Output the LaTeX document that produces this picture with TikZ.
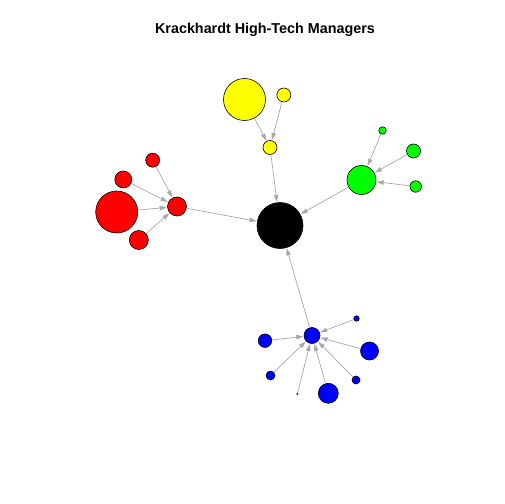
\documentclass[tikz,border=0pt]{standalone}
\usepackage{fontspec}
\setmainfont{Liberation Sans}
\usetikzlibrary{arrows.meta}
\definecolor{netGray}{HTML}{A9A9A9}
\definecolor{netYellow}{HTML}{FFFF00}
\definecolor{netGreen}{HTML}{00FF00}
\definecolor{netRed}{HTML}{FF0000}
\definecolor{netBlue}{HTML}{0000FF}
\tikzset{
    vtx/.style={circle, draw=black, line width=0.6bp, inner sep=0pt, minimum size=#1},
    edge/.style={draw=netGray, line width=0.7bp, -{Triangle[length=7bp, width=4.5bp]}, shorten >=0.5bp}
}

\begin{document}
\begin{tikzpicture}[x=1bp, y=-1bp]
    \useasboundingbox (0,0) rectangle (504,504);
    \node[font=\bfseries\fontsize{14.4}{16}\selectfont] (title) at (265, 30) {Krackhardt High-Tech Managers};

    % Centre
    \node[vtx=46bp, fill=black] (ctr) at (280, 225.5) {};

    % Yellow group
    \node[vtx=42bp, fill=netYellow] (y1) at (244.5, 99.5) {};
    \node[vtx=14bp, fill=netYellow] (y2) at (283.8, 95) {};
    \node[vtx=14bp, fill=netYellow] (yHub) at (270, 147.5) {};

    % Green group
    \node[vtx=29bp, fill=netGreen] (gHub) at (361.5, 180) {};
    \node[vtx=7.5bp, fill=netGreen] (g1) at (382.5, 130.5) {};
    \node[vtx=14bp, fill=netGreen] (g2) at (413.5, 151) {};
    \node[vtx=11.5bp, fill=netGreen] (g3) at (415.7, 186.5) {};

    % Red group
    \node[vtx=19bp, fill=netRed] (rHub) at (177, 206.5) {};
    \node[vtx=42bp, fill=netRed] (r1) at (116.7, 212) {};
    \node[vtx=14bp, fill=netRed] (r2) at (152.7, 160.2) {};
    \node[vtx=17bp, fill=netRed] (r3) at (123.3, 179.5) {};
    \node[vtx=19bp, fill=netRed] (r4) at (138.8, 240) {};

    % Blue group
    \node[vtx=16bp, fill=netBlue] (bHub) at (312, 335.5) {};
    \node[vtx=5.5bp, fill=netBlue] (b1) at (356.5, 318.5) {};
    \node[vtx=13.5bp, fill=netBlue] (b2) at (265, 340.7) {};
    \node[vtx=18bp, fill=netBlue] (b3) at (369.5, 351) {};
    \node[vtx=9bp, fill=netBlue] (b4) at (270.5, 375.5) {};
    \node[vtx=8bp, fill=netBlue] (b5) at (356, 380) {};
    \node[vtx=1.5bp, fill=netBlue, line width=0.4bp] (b6) at (297.3, 394) {};
    \node[vtx=20bp, fill=netBlue] (b7) at (328.3, 393.3) {};

    % Edges
    \draw[edge] (y1) -- (yHub);
    \draw[edge] (y2) -- (yHub);
    \draw[edge] (yHub) -- (ctr);
    \foreach \v in {g1,g2,g3} \draw[edge] (\v) -- (gHub);
    \draw[edge] (gHub) -- (ctr);
    \foreach \v in {r1,r2,r3,r4} \draw[edge] (\v) -- (rHub);
    \draw[edge] (rHub) -- (ctr);
    \foreach \v in {b1,b2,b3,b4,b5,b6,b7} \draw[edge] (\v) -- (bHub);
    \draw[edge] (bHub) -- (ctr);
\end{tikzpicture}
\end{document}
